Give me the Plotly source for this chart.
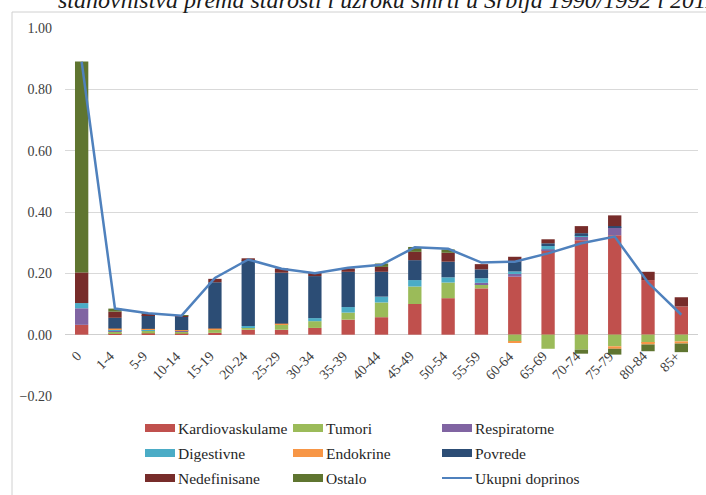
import plotly.graph_objects as go

categories = ["0", "1-4", "5-9", "10-14", "15-19", "20-24", "25-29", "30-34", "35-39", "40-44",
              "45-49", "50-54", "55-59", "60-64", "65-69", "70-74", "75-79", "80-84", "85+"]

kardiovaskularne = [0.032, 0.005, 0.004, 0.003, 0.006, 0.016, 0.016, 0.022, 0.049, 0.057,
                    0.100, 0.119, 0.151, 0.189, 0.275, 0.308, 0.324, 0.178, 0.092]
tumori = [0.000, 0.006, 0.008, 0.007, 0.010, 0.008, 0.016, 0.022, 0.023, 0.048,
          0.057, 0.051, 0.014, -0.022, -0.046, -0.049, -0.038, -0.027, -0.022]
respiratorne = [0.054, 0.004, 0.002, 0.002, 0.000, 0.000, 0.000, 0.000, 0.000, 0.000,
                0.000, 0.000, 0.004, 0.009, 0.003, 0.011, 0.027, 0.000, 0.000]
digestivne = [0.017, 0.002, 0.002, 0.001, 0.000, 0.004, 0.002, 0.010, 0.018, 0.019,
              0.021, 0.017, 0.015, 0.008, 0.011, 0.003, 0.000, 0.000, 0.000]
endokrine = [0.000, 0.003, 0.003, 0.002, 0.004, 0.000, 0.002, 0.000, 0.000, 0.000,
             0.000, 0.000, 0.000, -0.003, 0.000, 0.000, -0.008, -0.005, -0.007]
povrede = [0.000, 0.035, 0.045, 0.045, 0.151, 0.215, 0.166, 0.137, 0.115, 0.081,
           0.065, 0.051, 0.029, 0.032, 0.009, 0.009, 0.003, 0.000, 0.000]
nedefinisane = [0.100, 0.020, 0.004, 0.003, 0.011, 0.006, 0.014, 0.011, 0.011, 0.016,
                0.027, 0.029, 0.017, 0.016, 0.013, 0.023, 0.035, 0.027, 0.030]
ostalo = [0.688, 0.010, 0.002, 0.001, 0.000, 0.000, 0.000, 0.000, 0.000, 0.011,
          0.016, 0.011, 0.000, 0.000, 0.000, -0.013, -0.019, -0.022, -0.028]
ukupni_doprinos = [0.890, 0.085, 0.070, 0.062, 0.185, 0.245, 0.215, 0.200, 0.218, 0.228,
                   0.285, 0.280, 0.235, 0.238, 0.265, 0.298, 0.320, 0.170, 0.065]

y_ticks = [-0.2, 0.0, 0.2, 0.4, 0.6, 0.8, 1.0]
title_text = "stanovništva prema starosti i uzroku smrti u Srbija 1990/1992 i 2011"
line_name = "Ukupni doprinos"
line_color = "#4F81BD"

series = [
    ("Kardiovaskulame", kardiovaskularne, "#C0504D"),
    ("Tumori", tumori, "#9BBB59"),
    ("Respiratorne", respiratorne, "#8064A2"),
    ("Digestivne", digestivne, "#4BACC6"),
    ("Endokrine", endokrine, "#F79646"),
    ("Povrede", povrede, "#2C4D75"),
    ("Nedefinisane", nedefinisane, "#772C2A"),
    ("Ostalo", ostalo, "#5F7530"),
]

SERIF = "Times New Roman, Liberation Serif, DejaVu Serif, Noto Serif, serif"
W, H = 706, 495
ML, MR, MT, MB = 65, 8, 28, 99
PW, PH = W - ML - MR, H - MT - MB


def px_x(p):
    return (p - ML) / PW


def px_y(p):
    return (H - MB - p) / PH


fig = go.Figure()
for name, vals, color in series:
    fig.add_trace(go.Bar(
        x=categories, y=vals, name=name, marker=dict(color=color, line=dict(width=0)),
        showlegend=False,
    ))

fig.add_trace(go.Scatter(
    x=categories, y=ukupni_doprinos, name=line_name, mode="lines",
    line=dict(color=line_color, width=2.5), showlegend=False,
))

annotations = []
shapes = []

# category labels sitting under the zero line
for i, c in enumerate(categories):
    annotations.append(dict(
        x=i, y=0, xref="x", yref="y", text=c, showarrow=False, textangle=-45,
        xanchor="right", yanchor="top", xshift=5, yshift=-11,
        font=dict(family=SERIF, size=14, color="#404040"),
    ))

# cut-off title at the top edge
annotations.append(dict(
    x=px_x(56), y=px_y(15), xref="paper", yref="paper", text="<i>" + title_text + "</i>",
    showarrow=False, xanchor="left", yanchor="bottom",
    font=dict(family=SERIF, size=24, color="#1a1a1a"),
))

# legend (3 x 3 grid, drawn as shapes + text)
legend_entries = [(n, c, "bar") for n, _, c in series] + [(line_name, line_color, "line")]
col_x = [145, 293, 442]
row_y = [428, 453, 478]
for k, (name, color, kind) in enumerate(legend_entries):
    cx = col_x[k % 3]
    cy = row_y[k // 3]
    if kind == "bar":
        shapes.append(dict(type="rect", xref="paper", yref="paper",
                           x0=px_x(cx), x1=px_x(cx + 30), y0=px_y(cy + 4), y1=px_y(cy - 4),
                           fillcolor=color, line=dict(width=0)))
    else:
        shapes.append(dict(type="line", xref="paper", yref="paper",
                           x0=px_x(cx), x1=px_x(cx + 30), y0=px_y(cy), y1=px_y(cy),
                           line=dict(color=color, width=2)))
    annotations.append(dict(
        x=px_x(cx + 31), y=px_y(cy), xref="paper", yref="paper", text=name,
        showarrow=False, xanchor="left", yanchor="middle",
        font=dict(family=SERIF, size=15.5, color="#262626"),
    ))

shapes.append(dict(type="rect", xref="paper", yref="paper",
                   x0=px_x(12), x1=px_x(712), y0=px_y(500), y1=px_y(12),
                   line=dict(color="#D0D0D0", width=1), fillcolor="rgba(0,0,0,0)", layer="below"))

fig.update_layout(
    width=W, height=H,
    margin=dict(l=ML, r=MR, t=MT, b=MB, pad=0),
    paper_bgcolor="white", plot_bgcolor="white",
    font=dict(family=SERIF),
    barmode="relative", bargap=0.6,
    showlegend=False,
    xaxis=dict(type="category", range=[-0.5, len(categories) - 0.5], showticklabels=False,
               showgrid=False, zeroline=False, showline=False, ticks="", automargin=False),
    yaxis=dict(range=[-0.2, 1.0], tickvals=y_ticks, tickformat=".2f",
               showgrid=True, gridcolor="#D9D9D9", gridwidth=1,
               zeroline=True, zerolinecolor="#CFCFCF", zerolinewidth=1,
               showline=False, ticks="", ticklabelstandoff=12, automargin=False,
               tickfont=dict(family=SERIF, size=14, color="#404040")),
    annotations=annotations,
    shapes=shapes,
)

fig.write_html("out.html", config={"displayModeBar": False},
               post_script="document.body.style.margin='0px';")
